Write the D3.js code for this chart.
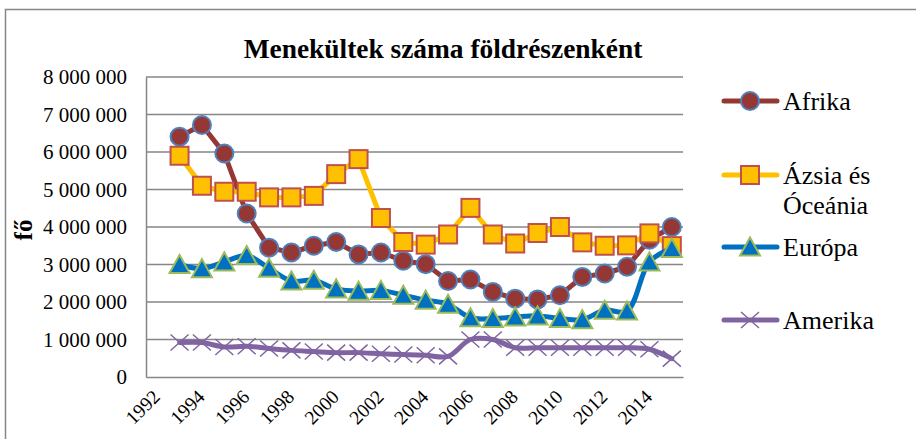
<!DOCTYPE html>
<html>
<head>
<meta charset="utf-8">
<script src="https://cdn.jsdelivr.net/npm/d3@7"></script>
<style>
  body { margin: 0; background: #fff; }
  svg text { font-family: "Liberation Serif", "Times New Roman", serif; fill: #000; }
</style>
</head>
<body>
<div class="chart"></div>
<script>
var width = 916;
var height = 439;

// data
var years = d3.range(1992, 2016);
var dataYears = d3.range(1993, 2016);
var afrika  = [6410000, 6720000, 5960000, 4360000, 3450000, 3320000, 3500000, 3600000, 3270000, 3320000, 3100000, 3010000, 2560000, 2600000, 2270000, 2090000, 2070000, 2180000, 2670000, 2760000, 2940000, 3660000, 4000000];
var azsia   = [5900000, 5100000, 4940000, 4940000, 4790000, 4790000, 4830000, 5410000, 5810000, 4240000, 3600000, 3530000, 3800000, 4510000, 3800000, 3560000, 3840000, 4000000, 3590000, 3500000, 3510000, 3830000, 3490000];
var europa  = [3000000, 2890000, 3070000, 3240000, 2900000, 2560000, 2580000, 2350000, 2290000, 2310000, 2180000, 2050000, 1940000, 1580000, 1560000, 1600000, 1630000, 1560000, 1530000, 1780000, 1760000, 3070000, 3430000];
var amerika = [920000, 920000, 800000, 820000, 760000, 710000, 680000, 650000, 650000, 620000, 600000, 580000, 550000, 1000000, 1000000, 780000, 780000, 780000, 780000, 780000, 780000, 740000, 490000];
var yTicks = d3.range(0, 8000001, 1000000);
var xLabels = years.filter(function(y){ return y % 2 === 0; });

var series = [
  {name: ['Afrika'], values: afrika, line: '#953735', marker: 'circle', fill: '#953735', stroke: '#4F81BD', smooth: false, legendY: 101},
  {name: ['Ázsia és', 'Óceánia'], values: azsia, line: '#FFC000', marker: 'square', fill: '#FFC000', stroke: '#C0504D', smooth: false, legendY: 175},
  {name: ['Európa'], values: europa, line: '#0070C0', marker: 'triangle', fill: '#0070C0', stroke: '#9BBB59', smooth: true, legendY: 247},
  {name: ['Amerika'], values: amerika, line: '#8064A2', marker: 'x', fill: 'none', stroke: '#8064A2', smooth: true, legendY: 320}
];

var serif = '"Liberation Serif", "Times New Roman", serif';
var plot = {left: 146, right: 683, top: 77, bottom: 377};

var x = d3.scaleBand()
  .domain(years)
  .range([plot.left, plot.right])
  .padding(0);

var y = d3.scaleLinear()
  .domain([0, 8000000])
  .range([plot.bottom, plot.top]);

function cx(year) { return x(year) + x.bandwidth() / 2; }

var svg = d3.select('.chart')
  .append('svg')
  .attr('width', width)
  .attr('height', height);

// outer border (runs off the right and bottom edges in the picture)
svg.append('rect')
  .attr('x', 5.5).attr('y', 9.5)
  .attr('width', 930).attr('height', 450)
  .attr('fill', 'none')
  .attr('stroke', '#868686')
  .attr('stroke-width', 1.5);

// title
svg.append('text')
  .attr('x', 443)
  .attr('y', 58)
  .attr('text-anchor', 'middle')
  .style('font-family', serif)
  .style('font-size', '27.4px')
  .style('font-weight', 'bold')
  .text('Menekültek száma földrészenként');

// gridlines
svg.append('g').selectAll('line')
  .data(yTicks.slice(1))
  .enter().append('line')
  .attr('x1', plot.left).attr('x2', plot.right)
  .attr('y1', function(d){ return y(d); })
  .attr('y2', function(d){ return y(d); })
  .attr('stroke', '#868686')
  .attr('stroke-width', 1.5);

// y axis
var fmt = function(d){ return d3.format(',')(d).replace(/,/g, ' '); };
var yAxis = svg.append('g')
  .attr('transform', 'translate(' + plot.left + ',0)')
  .attr('font-family', serif)
  .call(d3.axisLeft(y).tickValues(yTicks).tickFormat(fmt).tickSize(0).tickPadding(19));
yAxis.attr('font-family', serif);
yAxis.select('.domain').attr('stroke', '#868686').attr('stroke-width', 1.5);
yAxis.selectAll('text')
  .style('font-family', serif)
  .style('font-size', '21px')
  .style('fill', '#000');

// x axis
var xAxis = svg.append('g')
  .attr('transform', 'translate(0,' + plot.bottom + ')')
  .call(d3.axisBottom(x).tickValues(xLabels).tickSize(0));
xAxis.attr('font-family', serif);
xAxis.select('.domain').attr('stroke', '#868686').attr('stroke-width', 1.5);
xAxis.selectAll('text')
  .style('font-family', serif)
  .style('font-size', '19.5px')
  .style('fill', '#000')
  .attr('text-anchor', 'end')
  .attr('y', 0).attr('dy', 0)
  .attr('transform', 'translate(4,21) rotate(-45)');

// y title
svg.append('text')
  .attr('transform', 'translate(32,230) rotate(-90)')
  .attr('text-anchor', 'middle')
  .style('font-family', serif)
  .style('font-size', '25px')
  .style('font-weight', 'bold')
  .text('fő');

function drawMarker(g, type, fill, stroke) {
  if (type === 'circle') {
    g.append('circle').attr('r', 9).attr('fill', fill).attr('stroke', stroke).attr('stroke-width', 2);
  } else if (type === 'square') {
    g.append('rect').attr('x', -9).attr('y', -9).attr('width', 18).attr('height', 18)
      .attr('fill', fill).attr('stroke', stroke).attr('stroke-width', 2);
  } else if (type === 'triangle') {
    g.append('path').attr('d', 'M0,-9.5 L10,8.5 L-10,8.5 Z')
      .attr('fill', fill).attr('stroke', stroke).attr('stroke-width', 2);
  } else {
    g.append('path').attr('d', 'M-9,-8 L9,8 M-9,8 L9,-8')
      .attr('fill', 'none').attr('stroke', stroke).attr('stroke-width', 1.5);
  }
}

// series
series.forEach(function(s) {
  var pts = s.values.map(function(v, i){ return [cx(dataYears[i]), y(v)]; });
  var line = d3.line().curve(s.smooth ? d3.curveCatmullRom.alpha(0.5) : d3.curveLinear);
  var g = svg.append('g');
  g.append('path')
    .attr('d', line(pts))
    .attr('fill', 'none')
    .attr('stroke', s.line)
    .attr('stroke-width', 5)
    .attr('stroke-linejoin', 'round')
    .attr('stroke-linecap', 'round');
  g.selectAll('.m')
    .data(pts)
    .enter().append('g')
    .attr('class', 'm')
    .attr('transform', function(d){ return 'translate(' + d[0] + ',' + d[1] + ')'; })
    .each(function(){ drawMarker(d3.select(this), s.marker, s.fill, s.stroke); });
});

// legend
series.forEach(function(s) {
  var g = svg.append('g').attr('transform', 'translate(0,' + s.legendY + ')');
  g.append('line')
    .attr('x1', 724).attr('x2', 777)
    .attr('stroke', s.line).attr('stroke-width', 5).attr('stroke-linecap', 'round');
  var m = g.append('g').attr('transform', 'translate(750,0)');
  drawMarker(m, s.marker, s.fill, s.stroke);
  g.selectAll('text')
    .data(s.name)
    .enter().append('text')
    .attr('x', 783)
    .attr('y', function(d, i){ return i * 30; })
    .attr('dy', '0.33em')
    .style('font-family', serif)
    .style('font-size', '26px')
    .text(function(d){ return d; });
});
</script>
</body>
</html>
